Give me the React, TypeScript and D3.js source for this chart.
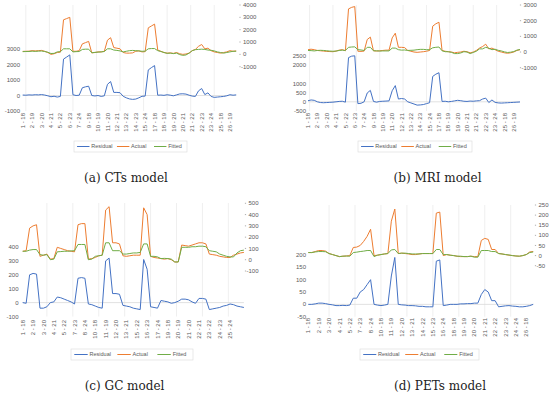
import React from "react";
import * as d3 from "d3";

// category tick labels
const ctLabels = ["1 - 18", "2 - 19", "3 - 20", "4 - 21", "5 - 22", "6 - 23", "7 - 24", "9 - 18", "10 - 19", "11 - 20", "12 - 21", "13 - 22", "14 - 23", "15 - 24", "17 - 18", "18 - 19", "19 - 20", "20 - 21", "21 - 22", "22 - 23", "23 - 24", "25 - 18", "26 - 19"];
const mriLabels = ctLabels;
const gcLabels = ["1 - 18", "2 - 19", "3 - 20", "4 - 21", "5 - 22", "7 - 23", "8 - 24", "10 - 18", "11 - 19", "12 - 20", "13 - 21", "15 - 22", "16 - 23", "17 - 24", "19 - 18", "20 - 19", "21 - 20", "22 - 21", "23 - 22", "24 - 23", "25 - 24"];
const petLabels = ["1 - 18", "2 - 19", "3 - 20", "4 - 21", "5 - 22", "7 - 23", "8 - 24", "10 - 18", "11 - 19", "12 - 20", "13 - 21", "14 - 22", "15 - 23", "16 - 24", "18 - 18", "19 - 19", "20 - 20", "21 - 21", "22 - 22", "23 - 23", "24 - 24", "26 - 18"];

// axis ticks
const ctLeftTicks = [-1000, 0, 1000, 2000, 3000];
const ctRightTicks = [-1000, 0, 1000, 2000, 3000, 4000];
const mriLeftTicks = [-500, 0, 500, 1000, 2000, 2500];
const mriRightTicks = [-1000, 0, 1000, 2000, 3000];
const gcLeftTicks = [-100, 0, 100, 200, 300, 400];
const gcRightTicks = [-100, 0, 100, 200, 300, 400, 500];
const petLeftTicks = [-50, 0, 50, 100, 150, 200];
const petRightTicks = [-50, 0, 50, 100, 150, 200, 250];

// (a) CTs
const ctResidual = [30, 20, 40, 30, 50, 40, 60, 30, -20, -80, -50, -100, -60, 2350, 2480, 2620, 50, 0, 20, 500, 560, 600, 0, -30, 0, -60, -20, 720, 900, 200, 200, 180, -50, -150, -220, -250, -230, -150, -50, -40, 1650, 1800, 1930, 20, 30, 10, 50, 20, -20, 40, 100, 110, 90, 20, -40, -60, 300, 450, 60, 170, -60, -120, -100, -80, -60, -20, 50, 20, 40];
const ctActual = [240, 250, 260, 300, 280, 300, 320, 250, 150, 0, 50, 150, 180, 2800, 2900, 3000, 250, 250, 300, 850, 950, 1050, 120, 150, 200, 200, 250, 1150, 1350, 550, 500, 450, 150, 100, 100, 120, 250, 280, 200, 220, 2150, 2300, 2450, 350, 250, 150, 100, 120, 80, 150, 50, 0, 30, 100, 300, 400, 650, 800, 450, 500, 300, 200, 150, 100, 150, 200, 300, 250, 280];
const ctFitted = [220, 230, 230, 260, 240, 260, 270, 230, 170, 70, 80, 200, 220, 450, 450, 450, 200, 220, 230, 400, 420, 420, 130, 160, 180, 200, 230, 450, 450, 350, 320, 280, 200, 250, 300, 320, 300, 280, 250, 260, 450, 470, 470, 300, 230, 150, 80, 100, 60, 100, -20, -80, -50, 100, 300, 380, 400, 420, 400, 350, 330, 280, 200, 150, 100, 150, 200, 250, 250];

// (b) MRI
const mriResidual = [60, 100, 80, 0, -40, -50, -40, -30, -20, 0, 20, 30, -20, 2400, 2480, 2500, -100, -80, 0, 480, 620, 20, -20, 20, 30, 40, 50, 600, 880, 150, 180, 150, 0, -60, -120, -180, -170, -150, -100, -50, 1380, 1500, 1580, 20, 30, 0, 20, 50, 80, 60, 30, 20, 40, 30, 50, 60, 150, 200, -40, 100, -30, -60, -70, -60, -50, -40, -30, -20, -10];
const mriActual = [150, 180, 150, 100, 80, 60, 40, 30, 20, 60, 120, 150, 80, 2750, 2850, 2900, 50, 40, 60, 800, 950, 80, 60, 80, 100, 120, 120, 900, 1200, 300, 300, 280, 100, 50, 0, -20, 0, 20, 50, 100, 1650, 1800, 1900, 100, 50, 20, 0, -50, -20, 0, 50, 20, -50, 0, 100, 250, 350, 500, 200, 250, 150, 50, 0, -50, -80, -50, 0, 100, 150];
const mriFitted = [100, 90, 70, 100, 110, 100, 80, 60, 50, 60, 100, 120, 100, 300, 320, 330, 150, 130, 100, 300, 300, 80, 80, 60, 70, 70, 70, 250, 250, 150, 120, 130, 100, 110, 120, 150, 170, 170, 150, 150, 270, 300, 320, 80, 20, 20, -20, -100, -100, -60, 20, 0, -100, -30, 50, 200, 200, 300, 240, 150, 180, 110, 70, 10, -30, -10, 30, 120, 160];

// (c) GC
const gcResidual = [0, -5, 200, 210, 205, -40, -40, -30, 0, 5, 40, 35, 25, 15, 5, -10, 175, 180, 175, -10, -15, -25, -35, -40, 300, 320, 65, 65, 60, -20, -25, -30, -40, -45, -50, 310, 240, -30, -35, -40, 15, 10, 5, -5, 0, 10, 25, 25, 20, 5, -5, 30, 30, 25, -50, -45, -40, -35, -25, -20, -10, -15, -25, -30, -35];
const gcActual = [75, 80, 280, 300, 310, 30, 40, 50, 5, 10, 110, 100, 90, 80, 75, 70, 310, 320, 320, 5, 10, 20, 35, 40, 440, 470, 150, 150, 140, 35, 30, 35, 40, 40, 40, 460, 400, 30, 20, 15, 10, 5, 10, 0, -20, -20, 130, 125, 120, 130, 140, 150, 150, 140, 50, 45, 40, 30, 25, 20, 20, 40, 50, 60, 65];
const gcFitted = [75, 75, 85, 90, 90, 45, 40, 45, 0, 5, 70, 72, 75, 75, 78, 80, 135, 135, 135, 0, 5, 30, 35, 40, 150, 150, 80, 80, 80, 50, 50, 55, 60, 60, 65, 140, 140, 30, 30, 25, 10, 12, 10, 5, -20, -20, 110, 110, 110, 115, 115, 120, 120, 115, 80, 75, 70, 50, 40, 30, 25, 25, 60, 80, 85];

// (d) PETs
const petResidual = [0, 0, 2, 5, 5, 3, 0, -2, -5, -5, -4, -5, -3, 25, 25, 50, 60, 80, 100, 0, -3, -5, -3, 0, 115, 190, 0, -2, -3, -5, -5, -6, -8, -8, -10, -10, -10, 175, 180, -5, -3, 0, 0, 0, 2, 2, 3, 3, 5, 5, 40, 60, 50, 15, 15, -10, -8, -6, -5, -7, -8, -10, -10, -8, -5, 0];
const petActual = [15, 15, 20, 25, 25, 22, 10, 5, 0, -5, -3, -2, 0, 40, 42, 50, 70, 95, 130, 0, 2, 5, 8, 10, 170, 230, 10, 12, 10, 8, 5, 5, 8, 10, 10, 10, 10, 210, 215, 0, 5, 2, 0, -3, -5, -5, -5, -3, -5, -5, 75, 85, 80, 30, 30, 10, 8, 5, 2, 0, -2, -3, 0, 5, 18, 20];
const petFitted = [15, 15, 18, 20, 20, 19, 10, 5, 0, -5, -3, -2, -3, 15, 17, 20, 22, 25, 25, -5, 2, 5, 8, 10, 28, 30, 10, 12, 12, 10, 8, 8, 8, 10, 10, 10, 10, 30, 30, 5, 5, 2, 0, -3, -3, -5, -5, -3, -8, -8, 25, 25, 25, 20, 20, 10, 8, 5, 3, 0, -2, -3, 0, 5, 15, 18];

const seriesNames = ["Residual", "Actual", "Fitted"];
const seriesColors = ["#4472c4", "#ed7d31", "#70ad47"];

const panels = [
  {
    caption: "(a) CTs model", labels: ctLabels, residual: ctResidual, actual: ctActual, fitted: ctFitted,
    leftTicks: ctLeftTicks, rightTicks: ctRightTicks,
    x0: 22.7, x1: 236.2, leftY: [111, 49], rightY: [66.7, 5], leftLabelX: 20, rightLabelX: 243,
    catTop: 113, plotTop: 5, gridStart: 1, legend: [74, 141, 113], captionX: 126, captionY: 182,
  },
  {
    caption: "(b) MRI model", labels: mriLabels, residual: mriResidual, actual: mriActual, fitted: mriFitted,
    leftTicks: mriLeftTicks, rightTicks: mriRightTicks,
    x0: 308, x1: 520, leftY: [111, 55.8], rightY: [67.7, 5], leftLabelX: 306, rightLabelX: 523.5,
    catTop: 113, plotTop: 5, gridStart: 0.5, legend: [358, 141, 114], captionX: 437.5, captionY: 182,
  },
  {
    caption: "(c) GC model", labels: gcLabels, residual: gcResidual, actual: gcActual, fitted: gcFitted,
    leftTicks: gcLeftTicks, rightTicks: gcRightTicks,
    x0: 22.7, x1: 243.9, leftY: [316.5, 247], rightY: [271, 203.3], leftLabelX: 18.5, rightLabelX: 248.5,
    catTop: 320, plotTop: 203, gridStart: 7, legend: [71, 349, 122], captionX: 124.5, captionY: 390,
  },
  {
    caption: "(d) PETs model", labels: petLabels, residual: petResidual, actual: petActual, fitted: petFitted,
    leftTicks: petLeftTicks, rightTicks: petRightTicks,
    x0: 308.3, x1: 533.2, leftY: [316.7, 255], rightY: [265.7, 205], leftLabelX: 306, rightLabelX: 538.5,
    catTop: 318, plotTop: 205, gridStart: 6, legend: [360, 349, 119], captionX: 440, captionY: 390,
  },
];

const sans = "'Liberation Sans', Arial, sans-serif";
const textGray = "#595959";

function Panel({ p }: { p: any }) {
  const n = p.residual.length;
  const x = d3.scaleLinear().domain([0, n - 1]).range([p.x0, p.x1]);
  const yL = d3.scaleLinear().domain(d3.extent(p.leftTicks) as [number, number]).range(p.leftY);
  const yR = d3.scaleLinear().domain(d3.extent(p.rightTicks) as [number, number]).range(p.rightY);
  const lineL = d3.line<number>().x((_, i) => x(i)).y((d) => yL(d));
  const lineR = d3.line<number>().x((_, i) => x(i)).y((d) => yR(d));
  const grid = d3.range(p.gridStart, n - 1, 7.5);
  const bottom = p.leftY[0];
  const [lx, ly, lw] = p.legend;
  const itemOffsets = [0.027, 0.38, 0.708];

  return (
    <g>
      {grid.map((g: number, i: number) => (
        <line key={i} x1={x(g)} x2={x(g)} y1={p.plotTop} y2={bottom} stroke="#e4e4e4" strokeWidth={0.6} />
      ))}
      <line x1={p.x0} x2={p.x1} y1={yL(0)} y2={yL(0)} stroke="#d9d9d9" strokeWidth={0.8} />

      {p.leftTicks.map((t: number) => (
        <text key={t} x={p.leftLabelX} y={yL(t)} dy="0.35em" textAnchor="end" fontSize={6} fill={textGray} fontFamily={sans}>
          {t}
        </text>
      ))}
      {p.rightTicks.map((t: number) => (
        <g key={t}>
          <line x1={p.rightLabelX - 3.6} x2={p.rightLabelX - 2.4} y1={yR(t)} y2={yR(t)} stroke="#8c8c8c" strokeWidth={0.7} />
          <text x={p.rightLabelX - (t < 0 ? 2 : 0)} y={yR(t)} dy="0.35em" textAnchor="start" fontSize={6} fill={textGray} fontFamily={sans}>
            {t}
          </text>
        </g>
      ))}

      {p.labels.map((l: string, i: number) => (
        <text key={i} transform={`translate(${x(i * 3)},${p.catTop}) rotate(-90)`} dy="0.35em" textAnchor="end" fontSize={6} fill={textGray} fontFamily={sans}>
          {l}
        </text>
      ))}

      <path d={lineL(p.residual) || ""} fill="none" stroke={seriesColors[0]} strokeWidth={1} />
      <path d={lineR(p.actual) || ""} fill="none" stroke={seriesColors[1]} strokeWidth={1} />
      <path d={lineR(p.fitted) || ""} fill="none" stroke={seriesColors[2]} strokeWidth={1} />

      <rect x={lx} y={ly} width={lw} height={11} fill="#fff" stroke="#d9d9d9" strokeWidth={0.6} />
      {seriesNames.map((s, i) => {
        const sx = lx + itemOffsets[i] * lw;
        return (
          <g key={s}>
            <line x1={sx} x2={sx + lw * 0.11} y1={ly + 5.5} y2={ly + 5.5} stroke={seriesColors[i]} strokeWidth={1} />
            <text x={sx + lw * 0.125} y={ly + 5.5} dy="0.35em" fontSize={5.5} fill={textGray} fontFamily={sans}>
              {s}
            </text>
          </g>
        );
      })}

      <text x={p.captionX} y={p.captionY} textAnchor="middle" fontSize={12} fill="#222" fontFamily="'DejaVu Serif', 'Liberation Serif', serif">
        {p.caption}
      </text>
    </g>
  );
}

export default function App() {
  return (
    <svg width={550} height={395} style={{ position: "absolute", left: 0, top: 0, background: "#fff" }}>
      {panels.map((p, i) => (
        <Panel key={i} p={p} />
      ))}
    </svg>
  );
}
